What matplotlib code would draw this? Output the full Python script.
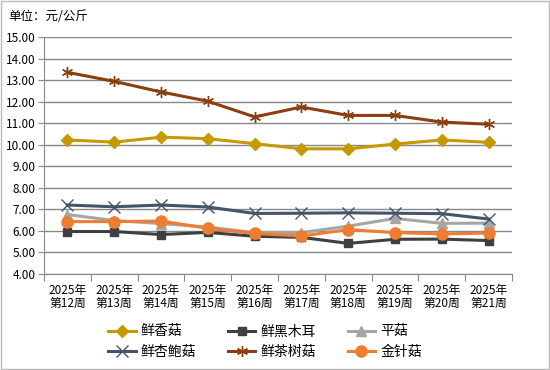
import matplotlib
matplotlib.use('Agg')
from matplotlib import pyplot as plt
import numpy as np

plt.rcParams['font.family'] = ['Noto Sans CJK SC', 'DejaVu Sans']

weeks = ['2025年\n第12周', '2025年\n第13周', '2025年\n第14周', '2025年\n第15周', '2025年\n第16周',
         '2025年\n第17周', '2025年\n第18周', '2025年\n第19周', '2025年\n第20周', '2025年\n第21周']

xianggu = [10.22, 10.12, 10.35, 10.28, 10.05, 9.81, 9.81, 10.03, 10.22, 10.11]
heimuer = [5.97, 5.97, 5.83, 5.93, 5.75, 5.70, 5.42, 5.61, 5.62, 5.55]
pinggu = [6.76, 6.48, 6.34, 6.18, 5.92, 5.92, 6.22, 6.58, 6.35, 6.36]
xingbaogu = [7.20, 7.12, 7.20, 7.11, 6.81, 6.82, 6.84, 6.82, 6.80, 6.55]
chashugu = [13.36, 12.94, 12.45, 12.02, 11.29, 11.75, 11.36, 11.36, 11.05, 10.95]
jinzhengu = [6.43, 6.43, 6.46, 6.12, 5.88, 5.76, 6.06, 5.92, 5.86, 5.90]

names = ['鲜香菇', '鲜黑木耳', '平菇', '鲜杏鲍菇', '鲜茶树菇', '金针菇']
colors = ['#C49A00', '#3F3F3F', '#A5A5A5', '#44546A', '#8B3E0F', '#ED7D31']
markers = ['D', 's', '^', 'x', (6, 2, 0), 'o']
sizes = [6, 6, 7, 8, 8, 8]

fig = plt.figure(figsize=(5.5, 3.7), dpi=100)
ax = fig.add_axes([0.08, 0.2595, 0.851, 0.6405])
x = np.arange(len(weeks))

series = [xianggu, heimuer, pinggu, xingbaogu, chashugu, jinzhengu]
handles = []
for vals, name, c, m, s in zip(series, names, colors, markers, sizes):
    h, = ax.plot(x, vals, color=c, lw=2.2, marker=m, ms=s, mew=1.0,
                 mec=c, mfc=c, label=name)
    handles.append(h)

ax.set_xlim(-0.5, 9.5)
ax.set_ylim(4, 15)
ax.set_yticks(np.arange(4, 15.1, 1))
ax.set_yticklabels([f'{v:.2f}' for v in np.arange(4, 15.1, 1)], fontsize=8.5)
ax.set_xticks(np.arange(-0.5, 10, 1))
ax.set_xticklabels([])
ax.set_xticks(x, minor=True)
ax.set_xticklabels(weeks, minor=True, fontsize=8.5, linespacing=1.05)
ax.tick_params(axis='x', which='minor', length=0, pad=7)
ax.tick_params(axis='x', which='major', length=5, color='#888888')
ax.tick_params(axis='y', length=4, color='#888888', pad=2)
ax.grid(axis='y', color='#888888', lw=1)
ax.set_axisbelow(True)
for sp in ['top', 'right']:
    ax.spines[sp].set_visible(False)
for sp in ['left', 'bottom']:
    ax.spines[sp].set_color('#888888')

fig.text(0.015, 0.955, '单位：元/公斤', fontsize=9, va='center')

# three legend columns with fixed spacing, two rows each
col_x = [0.196, 0.414, 0.632]
for k in range(3):
    idx = [k, k + 3]
    leg = fig.legend([handles[i] for i in idx], [names[i] for i in idx],
                     loc='center left', bbox_to_anchor=(col_x[k], 0.077), ncol=1,
                     frameon=False, fontsize=10, handlelength=2.0, handletextpad=0.35,
                     labelspacing=0.45, borderpad=0, borderaxespad=0)

fig.patches.append(plt.Rectangle((0.001, 0.002), 0.997, 0.995, transform=fig.transFigure,
                                 fill=False, edgecolor='#BBBBBB', lw=1))

fig.savefig('out.png', dpi=100)
